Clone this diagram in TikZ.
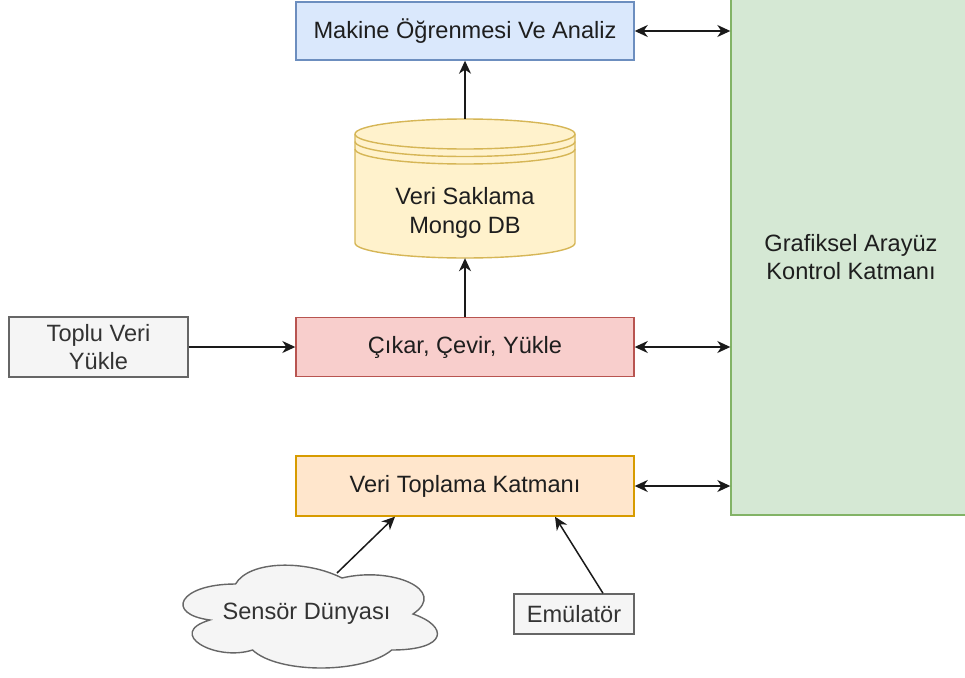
\documentclass[tikz,border=0pt]{standalone}
\usepackage{fontspec}
\setmainfont{Liberation Sans}
\usetikzlibrary{arrows.meta,calc}

\definecolor{blueFill}{HTML}{DAE8FC}\definecolor{blueLine}{HTML}{6C8EBF}
\definecolor{greenFill}{HTML}{D5E8D4}\definecolor{greenLine}{HTML}{82B366}
\definecolor{yellowFill}{HTML}{FFF2CC}\definecolor{yellowLine}{HTML}{D6B656}
\definecolor{redFill}{HTML}{F8CECC}\definecolor{redLine}{HTML}{B85450}
\definecolor{orangeFill}{HTML}{FFE6CC}\definecolor{orangeLine}{HTML}{D79B00}
\definecolor{grayFill}{HTML}{F5F5F5}\definecolor{grayLine}{HTML}{666666}
\definecolor{grayText}{HTML}{333333}
\definecolor{mainText}{HTML}{1E1E1E}
\definecolor{edgeCol}{HTML}{1A1A1A}

\tikzset{
  box/.style={draw, line width=1.4pt, rectangle, align=center, inner sep=0pt,
    text=mainText, font=\fontsize{23.6}{28.5}\selectfont},
  graybox/.style={box, fill=grayFill, draw=grayLine, text=grayText},
  label/.style={align=center, inner sep=0pt, font=\fontsize{23.6}{28.5}\selectfont},
  >={Stealth[length=13pt,width=12pt,inset=4pt]},
  flow/.style={draw=edgeCol, line width=1.5pt, ->},
  both/.style={draw=edgeCol, line width=1.5pt, <->},
}

\begin{document}
\begin{tikzpicture}[x=1pt,y=-1pt]
\clip (0,0) rectangle (965,677);
\fill[white] (0,0) rectangle (965,677);

% layer boxes
\node[box, fill=blueFill, draw=blueLine, minimum width=338pt, minimum height=58pt]
  (mla) at (465,31) {Makine Öğrenmesi Ve Analiz};
\node[box, fill=greenFill, draw=greenLine, minimum width=240pt, minimum height=516pt]
  (gui) at (851,257) {Grafiksel Arayüz\\Kontrol Katmanı};
\node[box, fill=redFill, draw=redLine, minimum width=338pt, minimum height=59pt]
  (cik) at (465,347) {Çıkar, Çevir, Yükle};
\node[graybox, minimum width=179pt, minimum height=60pt]
  (toplu) at (98.5,347) {Toplu Veri\\Yükle};
\node[box, fill=orangeFill, draw=orangeLine, minimum width=338pt, minimum height=60pt]
  (vt) at (465,486) {Veri Toplama Katmanı};
\node[graybox, minimum width=120pt, minimum height=40pt]
  (emu) at (574,614) {Emülatör};

% data store cylinder
\path[fill=yellowFill, draw=yellowLine, line width=1.4pt]
  (355,134) -- (355,243) arc[start angle=180,end angle=360,x radius=110pt,y radius=15pt]
  -- (575,134) arc[start angle=0,end angle=180,x radius=110pt,y radius=15pt] -- cycle;
\foreach \yy in {134,141.5,149}
  \draw[yellowLine, line width=1.4pt] (355,\yy) arc[start angle=180,end angle=360,x radius=110pt,y radius=15pt];
\node[minimum width=220pt, minimum height=139pt, inner sep=0pt] (db) at (465,188.5) {};
\node[label, text=mainText] (dbtext) at (465,213) {Veri Saklama\\Mongo DB};

% sensor cloud
\begin{scope}[shift={(164.5,554)}, x=284pt, y=-120pt]
\path[fill=grayFill, draw=grayLine, line width=1.4pt]
  (0.25,0.25) .. controls (0.05,0.25) and (0,0.5) .. (0.16,0.55)
  .. controls (0,0.66) and (0.18,0.9) .. (0.31,0.8)
  .. controls (0.4,1) and (0.7,1) .. (0.8,0.8)
  .. controls (1,0.8) and (1,0.6) .. (0.875,0.5)
  .. controls (1,0.3) and (0.8,0.1) .. (0.625,0.2)
  .. controls (0.5,0.05) and (0.3,0.05) .. (0.25,0.25) -- cycle;
\end{scope}
\node[label, text=grayText] (cloud) at (306.5,614) {Sensör Dünyası};

% connectors
\draw[flow] (db.north) -- (mla.south);
\draw[flow] (cik.north) -- (db.south);
\draw[flow] (toplu.east) -- (cik.west);
\draw[both] (mla.east) -- (mla.east -| gui.west);
\draw[both] (cik.east) -- (cik.east -| gui.west);
\draw[both] (vt.east) -- (vt.east -| gui.west);
\draw[flow] ($(cloud)+(30.5,-41)$) -- ($(vt.south)+(-70,0)$);
\draw[flow] ($(emu.north)+(29,0)$) -- ($(vt.south)+(90,0)$);
\end{tikzpicture}
\end{document}
